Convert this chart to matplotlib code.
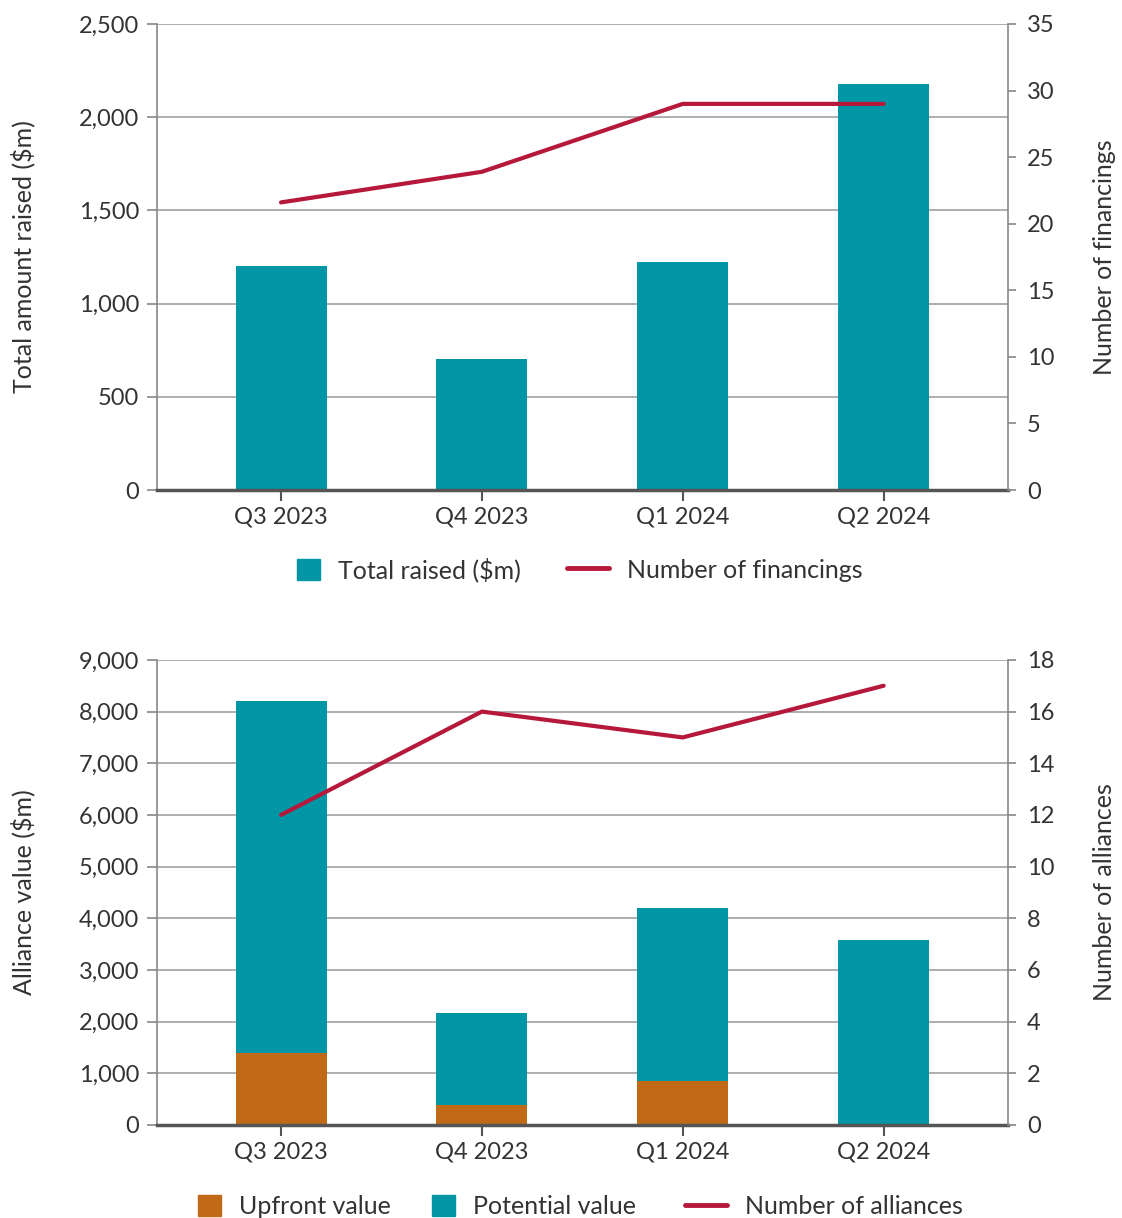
import matplotlib.pyplot as plt
import numpy as np
from matplotlib.ticker import FuncFormatter
from matplotlib.patches import Patch
from matplotlib.lines import Line2D
from matplotlib.legend import Legend

plt.rcParams['font.family'] = ['Lato', 'DejaVu Sans']
plt.rcParams['text.color'] = '#333333'
plt.rcParams['axes.labelcolor'] = '#333333'

quarters = ['Q3 2023', 'Q4 2023', 'Q1 2024', 'Q2 2024']

total_raised = [1202, 703, 1223, 2178]
num_financings = [21.6, 23.9, 29, 29]

upfront = [1400, 385, 850, 0]
alliance_total = [8200, 2170, 4200, 3580]
potential = [t - u for t, u in zip(alliance_total, upfront)]
num_alliances = [12, 16, 15, 17]

TEAL = '#0096A6'
ORANGE = '#C06A17'
RED = '#B5183A'
GRID = '#A8A8A8'
FS = 17
LFS = 18

fig = plt.figure(figsize=(11.22, 12.18), dpi=100)
ax1 = fig.add_axes([0.140, 0.5977, 0.758, 0.3826])
ax2 = fig.add_axes([0.140, 0.0764, 0.758, 0.3818])

x = np.arange(len(quarters))
comma = FuncFormatter(lambda v, p: f'{int(v):,}')


def style(ax, axr, ymax, ystep, rmax, rstep, ylabel, rlabel):
    ax.set_xlim(-0.617, 3.617)
    ax.set_ylim(0, ymax)
    ax.set_yticks(np.arange(0, ymax + 1, ystep))
    ax.yaxis.set_major_formatter(comma)
    ax.set_xticks(x)
    ax.set_xticklabels(quarters)
    ax.grid(axis='y', color=GRID, lw=1.3)
    ax.set_axisbelow(True)
    for s in ['top', 'right']:
        ax.spines[s].set_visible(False)
    ax.spines['left'].set_color('#888888')
    ax.spines['left'].set_linewidth(1.2)
    ax.spines['bottom'].set_color('#555555')
    ax.spines['bottom'].set_linewidth(2.5)
    ax.spines['bottom'].set_zorder(5)
    ax.tick_params(axis='y', length=7, width=1.2, color='#888888',
                   labelsize=FS, labelcolor='#333333', pad=6)
    ax.tick_params(axis='x', length=8, width=1.5, color='#555555',
                   labelsize=FS, labelcolor='#333333', pad=4)
    ax.set_ylabel(ylabel, fontsize=LFS)
    ax.yaxis.set_label_coords(-0.143, 0.5)

    axr.set_ylim(0, rmax)
    axr.set_yticks(np.arange(0, rmax + 1, rstep))
    for s in ['top', 'left', 'bottom']:
        axr.spines[s].set_visible(False)
    axr.spines['right'].set_color('#888888')
    axr.spines['right'].set_linewidth(1.2)
    axr.tick_params(axis='y', length=6, width=1.2, color='#888888',
                    labelsize=FS, labelcolor='#333333', pad=8)
    axr.set_ylabel(rlabel, fontsize=LFS)
    axr.yaxis.set_label_coords(1.101, 0.5)


def legend_entry(ax, handle, label, xpos, ypos):
    # one legend per entry, so squares and lines get their own handle sizes
    is_line = isinstance(handle, Line2D)
    leg = Legend(ax, [handle], [label], loc='center left',
                 bbox_to_anchor=(xpos, ypos), frameon=False, fontsize=LFS,
                 handlelength=1.68 if is_line else 0.92, handleheight=0.92,
                 handletextpad=0.72, borderpad=0, borderaxespad=0)
    ax.add_artist(leg)


# top panel
ax1.bar(x, total_raised, width=0.453, color=TEAL)
ax1r = ax1.twinx()
ax1r.plot(x, num_financings, color=RED, lw=3, solid_capstyle='round')
style(ax1, ax1r, 2500, 500, 35, 5, 'Total amount raised ($m)', 'Number of financings')
line_h = Line2D([], [], color=RED, lw=3.5, solid_capstyle='round')
legend_entry(ax1, Patch(color=TEAL), 'Total raised ($m)', 0.1645, -0.172)
legend_entry(ax1, line_h, 'Number of financings', 0.482, -0.172)

# bottom panel
ax2.bar(x, upfront, width=0.453, color=ORANGE)
ax2.bar(x, potential, width=0.453, bottom=upfront, color=TEAL)
ax2r = ax2.twinx()
ax2r.plot(x, num_alliances, color=RED, lw=3, solid_capstyle='round')
style(ax2, ax2r, 9000, 1000, 18, 2, 'Alliance value ($m)', 'Number of alliances')
legend_entry(ax2, Patch(color=ORANGE), 'Upfront value', 0.0482, -0.176)
legend_entry(ax2, Patch(color=TEAL), 'Potential value', 0.3231, -0.176)
legend_entry(ax2, line_h, 'Number of alliances', 0.621, -0.176)

fig.savefig('out.png', dpi=100)
